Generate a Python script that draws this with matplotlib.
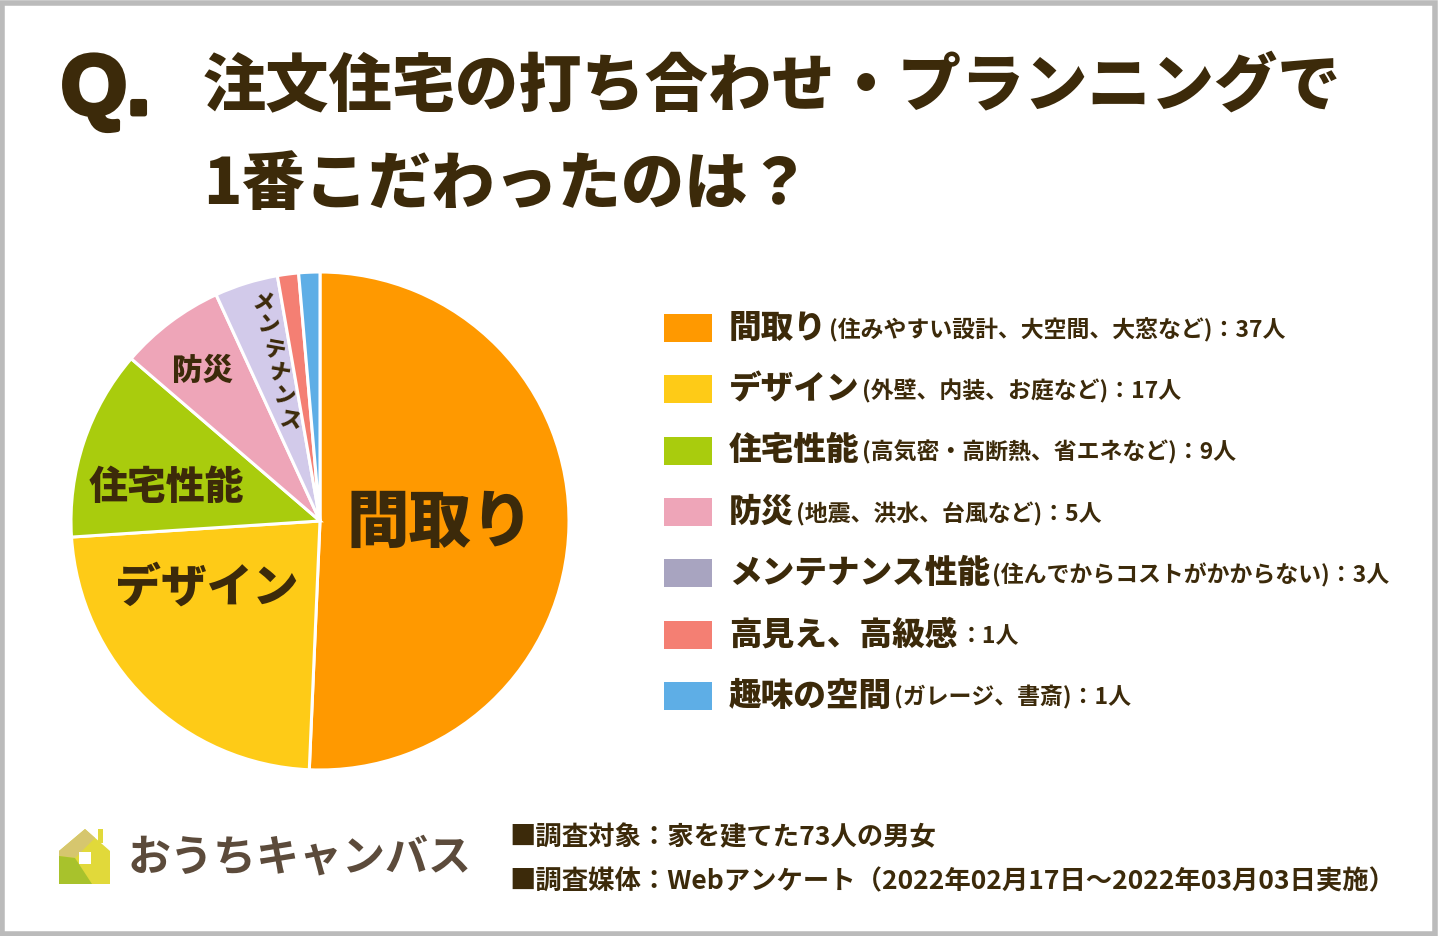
import matplotlib
matplotlib.use("Agg")
import matplotlib.pyplot as plt
import matplotlib.patheffects as pe
from matplotlib.patches import Rectangle, Polygon

# ---------------- data ----------------
categories = ["間取り", "デザイン", "住宅性能", "防災", "メンテナンス性能", "高見え、高級感", "趣味の空間"]
pie_labels = ["間取り", "デザイン", "住宅性能", "防災", "メンテナンス", "", ""]
counts = [37, 17, 9, 5, 3, 1, 1]
details = ["(住みやすい設計、大空間、大窓など)", "(外壁、内装、お庭など)", "(高気密・高断熱、省エネなど)",
           "(地震、洪水、台風など)", "(住んでからコストがかからない)", "", "(ガレージ、書斎)"]
title_line1 = "注文住宅の打ち合わせ・プランニングで"
title_line2 = "1番こだわったのは？"
footer_lines = ["■調査対象：家を建てた73人の男女",
                "■調査媒体：Webアンケート（2022年02月17日〜2022年03月03日実施）"]
logo_text = "おうちキャンバス"

# ---------------- style ----------------
pie_colors = ["#FF9900", "#FECB17", "#A9CC0D", "#EEA5B8", "#D2CAEA", "#F47F73", "#5EAEE6"]
swatch_colors = ["#FF9900", "#FECB17", "#A9CC0D", "#EEA5B8", "#A8A4C0", "#F47F73", "#5EAEE6"]
TXT = "#3C2A0A"
JP = ["Noto Sans CJK JP", "DejaVu Sans"]

W, H = 1440, 936
fig = plt.figure(figsize=(W / 100, H / 100), dpi=100)
fig.patch.set_facecolor("white")

# pie axes: circle centre (320,521), radius 249 px
cx, cy, R = 320, 521, 249
ax = fig.add_axes([(cx - R) / W, (H - cy - R) / H, 2 * R / W, 2 * R / H])
wedges, _ = ax.pie(counts, colors=pie_colors, startangle=90, counterclock=False,
                   radius=1.0, wedgeprops=dict(edgecolor="white", linewidth=2.2))
ax.set_xlim(-1, 1)
ax.set_ylim(-1, 1)
ax.set_aspect("equal")
ax.axis("off")

# pie labels (positions in unit-circle coordinates)
lab_pos = [(0.482, -0.01), (-0.454, -0.27), (-0.618, 0.137), (-0.47, 0.606)]
lab_size = [45, 33, 28, 22]
for name, (x, y), s in zip(pie_labels[:4], lab_pos, lab_size):
    ax.text(x, y, name, ha="center", va="center", fontsize=s, fontweight="heavy",
            color=TXT, family=JP)
# vertical メンテナンス
vt = pie_labels[4]
x0, y0, x1, y1 = -0.228, 0.878, -0.118, 0.405
n = len(vt)
for i, ch in enumerate(vt):
    t = i / (n - 1)
    ax.text(x0 + (x1 - x0) * t, y0 + (y1 - y0) * t, ch, ha="center", va="center",
            fontsize=15.5, fontweight="heavy", color=TXT, family=JP, rotation=-10)

# overlay axes in pixel coords
ov = fig.add_axes([0, 0, 1, 1], zorder=5)
ov.set_xlim(0, W)
ov.set_ylim(H, 0)
ov.axis("off")
ov.patch.set_alpha(0)

# border
ov.add_patch(Rectangle((2, 2.5), W - 7, H - 5, fill=False, edgecolor="#BBBBBB", linewidth=4))

# title
ov.text(61, 92, "Q.", fontsize=61, fontweight="heavy", color=TXT,
        family=["Liberation Sans", "DejaVu Sans"], ha="left", va="center",
        path_effects=[pe.withStroke(linewidth=3.5, foreground=TXT)])
ov.text(203, 88, title_line1, fontsize=45.5, fontweight="heavy", color=TXT, family=JP,
        ha="left", va="center")
ov.text(203, 185, title_line2, fontsize=45.5, fontweight="heavy", color=TXT, family=JP,
        ha="left", va="center")

# legend
fig.canvas.draw()
renderer = fig.canvas.get_renderer()
row_y0, row_dy = 328, 61.3
for i, (cat, det, c) in enumerate(zip(categories, details, counts)):
    y = row_y0 + i * row_dy
    ov.add_patch(Rectangle((664, y - 14), 48, 28, facecolor=swatch_colors[i], edgecolor="none"))
    t1 = ov.text(729, y, cat, fontsize=23.5, fontweight="heavy", color=TXT, family=JP,
                 ha="left", va="center")
    bb = t1.get_window_extent(renderer)
    xnext = bb.x1 + 2
    ov.text(xnext, y + 2, det + "：" + f"{c}人", fontsize=16.5, fontweight="bold",
            color=TXT, family=JP, ha="left", va="center")

# footer
for k, line in enumerate(footer_lines):
    ov.text(509, 838 + k * 44, line, fontsize=19, fontweight="bold", color=TXT, family=JP,
            ha="left", va="center")

# logo: house icon
ov.add_patch(Polygon([(59, 851), (85, 829), (110, 851), (110, 884), (59, 884)], closed=True,
                     facecolor="#E1D93A", edgecolor="none"))
ov.add_patch(Polygon([(59, 851), (85, 829), (95, 838), (75, 858), (59, 856)], closed=True,
                     facecolor="#D6C66E", edgecolor="none"))
ov.add_patch(Polygon([(59, 856), (75, 858), (92, 884), (59, 884)], closed=True,
                     facecolor="#A8C22C", edgecolor="none"))
ov.add_patch(Rectangle((98, 829), 5, 14, facecolor="#E1D93A", edgecolor="none"))
ov.add_patch(Rectangle((79, 852), 12, 12, facecolor="white", edgecolor="none"))
ov.text(128, 858, logo_text, fontsize=31, fontweight="bold", color="#5C4B3B",
        family=JP, ha="left", va="center")

fig.savefig("out.png", dpi=100, facecolor="white")
